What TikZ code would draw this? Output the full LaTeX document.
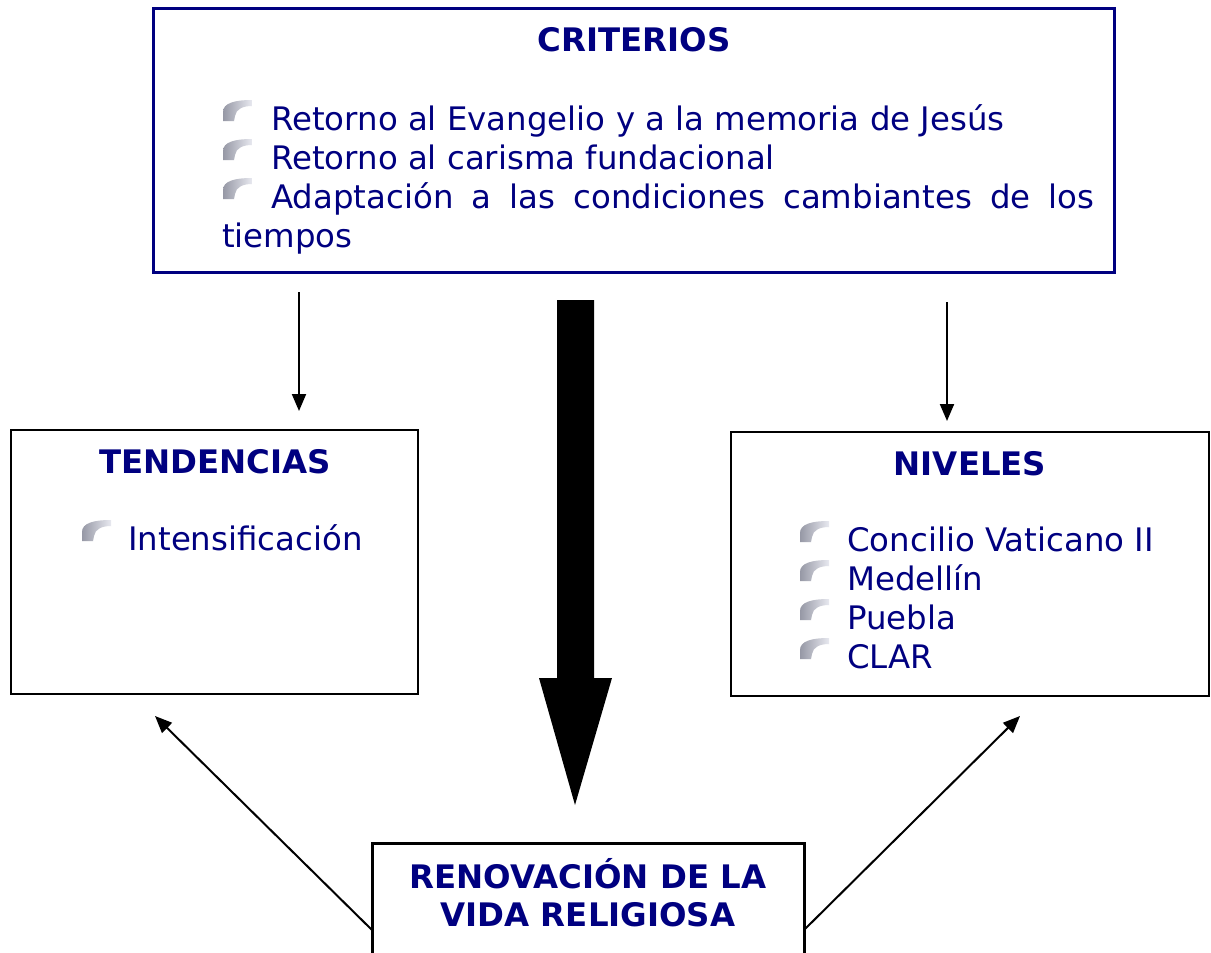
\documentclass[tikz,border=0pt]{standalone}
\usepackage{fontspec}
\setmainfont{DejaVu Sans}
\usetikzlibrary{arrows.meta}
\definecolor{navy}{RGB}{0,0,128}
\definecolor{bulL}{RGB}{150,152,165}
\definecolor{bulR}{RGB}{232,233,240}
\tikzset{
  box/.style={draw, rectangle, inner sep=0pt, fill=white},
  txt/.style={anchor=base west, inner sep=0pt, text=navy, font=\fontsize{32.4}{39}\selectfont},
  ttl/.style={anchor=base, inner sep=0pt, text=navy, font=\fontsize{32.4}{38}\selectfont\bfseries, align=center},
  thin/.style={line width=2pt, -{Triangle[length=17pt,width=14pt]}},
  bullet/.pic={
    \shade[left color=bulL, right color=bulR, draw=none]
      (0,0) -- (0,-9) .. controls (0,-18) and (12,-21) .. (29,-21) -- (29,-15)
      .. controls (20,-15) and (13,-12) .. (12,-5) -- (11,0) -- cycle;
  }
}
\begin{document}
\begin{tikzpicture}[x=1pt,y=-1pt]
\useasboundingbox (0,0) rectangle (1211,953);
\clip (0,0) rectangle (1211,953);
% boxes
\node[box, draw=navy, line width=3pt, minimum width=961pt, minimum height=264pt] (crit) at (633.5,140) {};
\node[box, line width=2pt, minimum width=407pt, minimum height=264pt] (tend) at (214.5,562) {};
\node[box, line width=2pt, minimum width=478pt, minimum height=264pt] (niv) at (970,564) {};
\node[box, line width=3pt, minimum width=432pt, minimum height=140pt] (reno) at (588,913) {};
% criterios text
\node[ttl] (critt) at (634,51) {CRITERIOS};
\pic at (223,121) {bullet};
\node[txt] (c1) at (271,130) {Retorno al Evangelio y a la memoria de Jesús};
\pic at (223,160) {bullet};
\node[txt] (c2) at (271,169) {Retorno al carisma fundacional};
\pic at (223,199) {bullet};
\node[txt] (c3) at (271,208) {\makebox[823pt][s]{Adaptación a las condiciones cambiantes de los}};
\node[txt] (c4) at (222,247) {tiempos};
% tendencias
\node[ttl] (tendt) at (215,473) {TENDENCIAS};
\pic at (82,541) {bullet};
\node[txt] (t1) at (128,550) {Intensificación};
% niveles
\node[ttl] (nivt) at (970,475) {NIVELES};
\pic at (800,542) {bullet};
\node[txt] (n1) at (847,551) {Concilio Vaticano II};
\pic at (800,581) {bullet};
\node[txt] (n2) at (847,590) {Medellín};
\pic at (800,620) {bullet};
\node[txt] (n3) at (847,629) {Puebla};
\pic at (800,659) {bullet};
\node[txt] (n4) at (847,668) {CLAR};
% renovacion
\node[ttl] (renot) at (588,926) {RENOVACIÓN DE LA\\VIDA RELIGIOSA};
% connectors
\coordinate (a1s) at (299,292); \coordinate (a1e) at (299,411);
\coordinate (a2s) at (947,302); \coordinate (a2e) at (947,421);
\draw[thin] (a1s) -- (a1e);
\draw[thin] (a2s) -- (a2e);
\coordinate (d1s) at (372,930); \coordinate (d1e) at (155,716);
\coordinate (d2s) at (804,930); \coordinate (d2e) at (1020,716);
\draw[thin] (d1s) -- (d1e);
\draw[thin] (d2s) -- (d2e);
% big arrow
\fill (557,300) -- (594,300) -- (594,678) -- (612,678) -- (575,805) -- (539,678) -- (557,678) -- cycle;
\end{tikzpicture}
\end{document}
